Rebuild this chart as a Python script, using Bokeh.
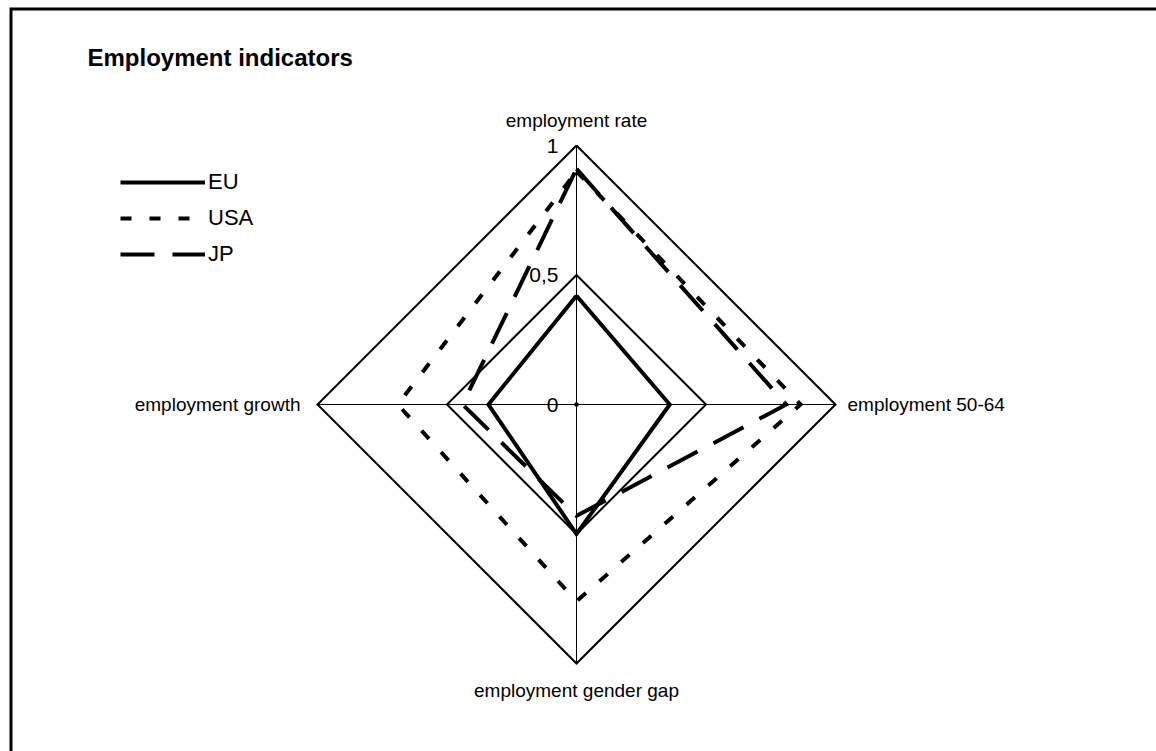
import numpy as np
from bokeh.plotting import figure
from bokeh.models import Range1d, Label, Legend, LegendItem
from bokeh.core.properties import value
from bokeh.embed import file_html
from bokeh.resources import INLINE

# ---- data ----
categories = ["employment rate", "employment 50-64", "employment gender gap", "employment growth"]
series_names = ["EU", "USA", "JP"]
eu = [0.42, 0.36, 0.50, 0.34]
usa = [0.90, 0.865, 0.76, 0.69]
jp = [0.91, 0.81, 0.43, 0.44]
grid_levels = [0.5, 1.0]
tick_values = [1.0, 0.5, 0.0]
tick_labels = ["1", "0,5", "0"]

# ---- layout ----
W, H = 1156, 751
CX, CY = 576, 404      # canvas pixel position of the radar centre
R = 259                # pixels per unit radius
FONT = "Liberation Sans"

def px_x(x):
    return (x - CX) / R

def px_y(y):
    return (CY - y) / R

p = figure(width=W, height=H, output_backend="svg", toolbar_location=None,
           x_range=Range1d(px_x(0), px_x(W)), y_range=Range1d(px_y(H), px_y(0)),
           min_border=0, outline_line_color=None)
p.axis.visible = False
p.grid.visible = False
p.background_fill_color = "white"
p.border_fill_color = "white"

angles = np.pi / 2 - np.arange(len(categories)) * np.pi / 2   # top, right, bottom, left
cosa, sina = np.cos(angles), np.sin(angles)

def closed(vals):
    v = np.asarray(vals, dtype=float)
    xs = np.append(v * cosa, v[0] * cosa[0])
    ys = np.append(v * sina, v[0] * sina[0])
    return xs, ys

# chart frame (only its left and top edges fall inside the window)
p.line([px_x(10.5), px_x(10.5), px_x(W + 5)], [px_y(H + 5), px_y(8.5), px_y(8.5)],
       line_color="black", line_width=3, line_join="miter")

# grid diamonds
for lv in grid_levels:
    gx, gy = closed([lv] * len(categories))
    p.line(gx, gy, line_color="black", line_width=2, line_join="miter")

# spokes
outer = max(grid_levels)
p.segment(x0=[0] * 4, y0=[0] * 4, x1=list(outer * cosa), y1=list(outer * sina),
          line_color="black", line_width=1)
p.scatter(x=[0], y=[0], marker="square", size=3, color="black")

# series
styles = {
    "EU": dict(line_dash="solid"),
    "USA": dict(line_dash="11 18"),
    "JP": dict(line_dash="34 18"),
}
renderers = {}
for name, vals in zip(series_names, [eu, usa, jp]):
    sx, sy = closed(vals)
    renderers[name] = p.line(sx, sy, line_color="black", line_width=4,
                             line_join="miter", **styles[name])

# tick labels
p.text(x=[0] * len(tick_values), y=tick_values, text=tick_labels,
       x_offset=-18, text_align="right", text_baseline="middle",
       text_font=value(FONT), text_font_size="21px", text_color="black")

# category labels
cat_fs = "19px"
p.text(x=[outer * cosa[0]], y=[outer * sina[0]], text=[categories[0]], y_offset=-25,
       text_align="center", text_baseline="middle", text_font=value(FONT),
       text_font_size=cat_fs, text_color="black")
p.text(x=[outer * cosa[1]], y=[outer * sina[1]], text=[categories[1]], x_offset=12,
       text_align="left", text_baseline="middle", text_font=value(FONT),
       text_font_size=cat_fs, text_color="black")
p.text(x=[outer * cosa[2]], y=[outer * sina[2]], text=[categories[2]], y_offset=27,
       text_align="center", text_baseline="middle", text_font=value(FONT),
       text_font_size=cat_fs, text_color="black")
p.text(x=[outer * cosa[3]], y=[outer * sina[3]], text=[categories[3]], x_offset=-17,
       text_align="right", text_baseline="middle", text_font=value(FONT),
       text_font_size=cat_fs, text_color="black")

# title
p.add_layout(Label(x=px_x(87), y=px_y(57), text="Employment indicators",
                   text_font=FONT, text_font_size="24px", text_font_style="bold",
                   text_align="left", text_baseline="alphabetic", text_color="black"))

# legend
legend = Legend(items=[LegendItem(label=n, renderers=[renderers[n]]) for n in series_names],
                location=(120, H - 269), orientation="vertical",
                glyph_width=85, glyph_height=30, label_height=30, spacing=6,
                padding=0, margin=0, label_standoff=3,
                border_line_alpha=0, background_fill_alpha=0,
                label_text_font=FONT, label_text_font_size="22px", label_text_color="black")
p.add_layout(legend)

open("out.html", "w").write(file_html(p, INLINE))
